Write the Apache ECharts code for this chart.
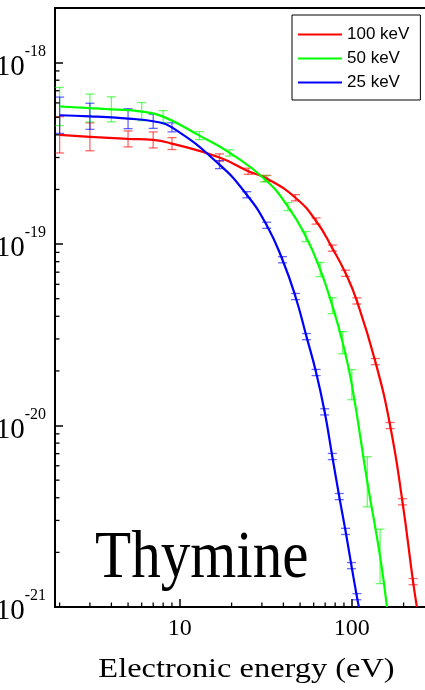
<!DOCTYPE html>
<html><head><meta charset="utf-8">
<script src="https://cdn.jsdelivr.net/npm/echarts@6/dist/echarts.min.js"></script>
<style>html,body{margin:0;padding:0;background:#fff}#c{width:425px;height:690px}</style>
</head><body><div id="c"></div>
<script>
// ---- data ----
const seriesNames = ['100 keV', '50 keV', '25 keV'];
const seriesColors = ['#ff0000', '#00ff00', '#0000ff'];

const redX = [2, 3, 5, 7, 9, 17, 25, 32, 47, 62, 77, 92, 107, 137, 167, 197, 227];
const redY = [4.0e-19, 3.9e-19, 3.8e-19, 3.75e-19, 3.58e-19, 3.0e-19, 2.52e-19, 2.3e-19, 1.8e-19, 1.34e-19, 9.5e-20, 6.9e-20, 4.86e-20, 2.25e-20, 1.0e-20, 3.8e-21, 1.38e-21];
const redErr = [0.1, 0.077, 0.044, 0.044, 0.033, 0.02, 0.017, 0.017, 0.017, 0.017, 0.017, 0.017, 0.017, 0.017, 0.017, 0.017, 0.017]; // half-width, decades
const redEnd = [239, 1e-21];

const greenX = [2, 3, 4, 6, 8, 13, 19.5, 31, 42.5, 54, 65.5, 77, 88.5, 100, 123, 146];
const greenY = [5.73e-19, 5.62e-19, 5.53e-19, 5.37e-19, 5.04e-19, 3.96e-19, 3.18e-19, 2.29e-19, 1.61e-19, 1.10e-19, 7.24e-20, 4.58e-20, 2.86e-20, 1.68e-20, 4.9e-21, 1.9e-21];
const greenErr = [0.105, 0.077, 0.069, 0.05, 0.033, 0.022, 0.017, 0.017, 0.022, 0.028, 0.039, 0.044, 0.061, 0.083, 0.138, 0.15];
const greenEnd = [160, 1e-21];

const blueX = [2, 3, 5, 7, 9, 17, 24.5, 32, 39.5, 47, 54.5, 62, 69.5, 77, 84.5, 92, 99.5, 107];
const blueY = [5.13e-19, 5.06e-19, 4.91e-19, 4.75e-19, 4.4e-19, 2.74e-19, 1.87e-19, 1.27e-19, 8.2e-20, 5.14e-20, 3.09e-20, 1.96e-20, 1.19e-20, 6.75e-21, 4.06e-21, 2.61e-21, 1.69e-21, 1.14e-21];
const blueErr = [0.1, 0.072, 0.055, 0.039, 0.025, 0.022, 0.017, 0.017, 0.017, 0.017, 0.017, 0.017, 0.017, 0.017, 0.017, 0.017, 0.017, 0.017];
const blueEnd = [110, 1e-21];

const xMinorTicks = [2, 3, 4, 5, 6, 7, 8, 9, 20, 30, 40, 50, 60, 70, 80, 90, 200, 300];
const yMinorTicks = [2e-21, 3e-21, 4e-21, 5e-21, 6e-21, 7e-21, 8e-21, 9e-21,
                     2e-20, 3e-20, 4e-20, 5e-20, 6e-20, 7e-20, 8e-20, 9e-20,
                     2e-19, 3e-19, 4e-19, 5e-19, 6e-19, 7e-19, 8e-19, 9e-19];
const X_MIN = 1.88, X_MAX = 350;
const Y_MIN = 1e-21, Y_MAX = 2e-18;
const Y_UNIT = 1e-21; // plotted in units of 1e-21 to keep the log scale numerically safe

// ---- build ----
const chart = echarts.init(document.getElementById('c'), null, {renderer: 'canvas'});
function pts(xs, ys, end) {
  const a = xs.map((x, i) => [x, ys[i] / Y_UNIT]);
  if (end) a.push([end[0], end[1] / Y_UNIT]);
  return a;
}
function errSeries(xs, ys, es, color) {
  return {
    type: 'custom', coordinateSystem: 'cartesian2d', clip: true, silent: true, z: 2,
    encode: {x: 0, y: 1},
    data: xs.map((x, i) => [x, ys[i] / Y_UNIT, es[i]]),
    renderItem(params, api) {
      const x = api.value(0), y = api.value(1), e = api.value(2);
      const f = Math.pow(10, e);
      const pt = api.coord([x, y * f]), pb = api.coord([x, y / f]);
      const hw = 4.5;
      const st = {stroke: color, lineWidth: 1.3, opacity: 0.6};
      return {type: 'group', children: [
        {type: 'line', shape: {x1: pt[0], y1: pt[1], x2: pb[0], y2: pb[1]}, style: st},
        {type: 'line', shape: {x1: pt[0] - hw, y1: pt[1], x2: pt[0] + hw, y2: pt[1]}, style: st},
        {type: 'line', shape: {x1: pb[0] - hw, y1: pb[1], x2: pb[0] + hw, y2: pb[1]}, style: st}
      ]};
    }
  };
}
function lineSeries(name, data, color) {
  return {
    name, type: 'line', data, smooth: 0.5, symbol: 'none', z: 3, clip: true,
    color, lineStyle: {width: 2.2, color}, itemStyle: {color}
  };
}
function isPow10(v) {
  const e = Math.log10(v);
  return Math.abs(e - Math.round(e)) < 1e-6;
}
const serif = 'Liberation Serif';

const option = {
  animation: false,
  backgroundColor: '#fff',
  grid: {left: 55, top: 8, width: 390.4, height: 599, outerBoundsMode: 'none', containLabel: false,
         show: true, borderColor: '#000', borderWidth: 2, backgroundColor: 'transparent'},
  xAxis: {
    type: 'log', logBase: 10, min: X_MIN, max: X_MAX,
    axisLine: {show: true, lineStyle: {color: '#000', width: 2}},
    axisTick: {show: true, inside: true, length: 8, lineStyle: {color: '#000', width: 1.5}},
    minorTick: {show: false}, splitLine: {show: false},
    axisLabel: {
      margin: 10, color: '#000', fontFamily: serif, fontSize: 24,
      formatter: v => isPow10(v) ? String(Math.round(v)) : ''
    }
  },
  yAxis: {
    type: 'log', logBase: 10, min: Y_MIN / Y_UNIT, max: Y_MAX / Y_UNIT,
    axisLine: {show: true, lineStyle: {color: '#000', width: 2}},
    axisTick: {show: true, inside: true, length: 8, lineStyle: {color: '#000', width: 1.5}},
    minorTick: {show: false}, splitLine: {show: false},
    axisLabel: {
      margin: 9, showMinLabel: true,
      formatter: v => {
        if (!isPow10(v)) return '';
        const e = Math.round(Math.log10(v * Y_UNIT));
        return '{b|10}{s|' + e + '}';
      },
      rich: {
        b: {fontFamily: serif, fontSize: 29, lineHeight: 38, color: '#000', verticalAlign: 'bottom'},
        s: {fontFamily: serif, fontSize: 16, lineHeight: 16, color: '#000', verticalAlign: 'top'}
      }
    }
  },
  legend: {
    data: seriesNames, orient: 'vertical', left: 292, top: 15,
    padding: [11, 11, 9, 6], itemGap: 7, itemWidth: 44, itemHeight: 2.2, icon: 'rect',
    borderColor: '#000', borderWidth: 1, backgroundColor: '#fff',
    textStyle: {fontFamily: 'Liberation Sans', fontSize: 17, lineHeight: 14, color: '#000'}
  },
  graphic: [
    {type: 'text', x: 95, y: 559, scaleX: 0.87, z: 10,
     style: {text: 'Thymine', fontFamily: serif, fontSize: 68, fill: '#000', align: 'left', verticalAlign: 'middle', textAlign: 'left', textVerticalAlign: 'middle'}},
    {type: 'text', x: 246.5, y: 670, scaleX: 1.2, z: 10,
     style: {text: 'Electronic energy (eV)', fontFamily: serif, fontSize: 27, fill: '#000', align: 'center', verticalAlign: 'middle', textAlign: 'center', textVerticalAlign: 'middle'}}
  ],
  series: [
    errSeries(redX, redY, redErr, seriesColors[0]),
    errSeries(greenX, greenY, greenErr, seriesColors[1]),
    errSeries(blueX, blueY, blueErr, seriesColors[2]),
    lineSeries(seriesNames[0], pts(redX, redY, redEnd), seriesColors[0]),
    lineSeries(seriesNames[1], pts(greenX, greenY, greenEnd), seriesColors[1]),
    lineSeries(seriesNames[2], pts(blueX, blueY, blueEnd), seriesColors[2]),
    { // minor ticks on the y axis
      type: 'custom', coordinateSystem: 'cartesian2d', silent: true, clip: false, z: 4,
      data: yMinorTicks.map(v => [X_MIN, v / Y_UNIT]),
      renderItem(params, api) {
        const cs = params.coordSys;
        const p = api.coord([api.value(0), api.value(1)]);
        return {type: 'line', shape: {x1: cs.x, y1: p[1], x2: cs.x + 4.5, y2: p[1]}, style: {stroke: '#000', lineWidth: 1.3}};
      }
    },
    { // minor ticks on the x axis
      type: 'custom', coordinateSystem: 'cartesian2d', silent: true, clip: false, z: 4,
      data: xMinorTicks.map(v => [v, Y_MIN / Y_UNIT]),
      renderItem(params, api) {
        const cs = params.coordSys;
        const p = api.coord([api.value(0), api.value(1)]);
        const b = cs.y + cs.height;
        return {type: 'line', shape: {x1: p[0], y1: b, x2: p[0], y2: b - 4.5}, style: {stroke: '#000', lineWidth: 1.3}};
      }
    }
  ]
};
chart.setOption(option);
</script>
</body></html>
